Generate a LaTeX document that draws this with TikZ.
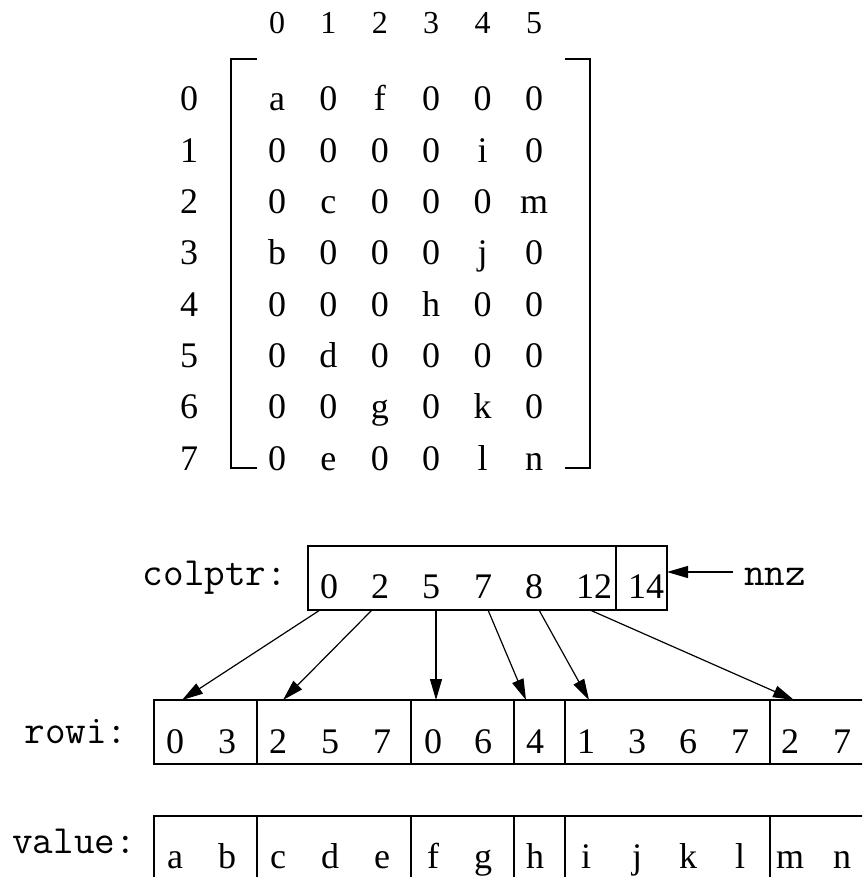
\documentclass[tikz,border=0pt]{standalone}
\usepackage{fontspec}
\setmainfont{Liberation Serif}
\usetikzlibrary{arrows.meta}

\begin{document}
\begin{tikzpicture}[x=1pt,y=-1pt,line width=1.2pt,
  num/.style={anchor=base,inner sep=0pt,font=\fontsize{36}{42}\selectfont},
  colhead/.style={anchor=base,inner sep=0pt,font=\fontsize{32}{38}\selectfont},
  lbl/.style={anchor=base,inner sep=0pt,font=\ttfamily\fontsize{40}{46}\selectfont},
  cell/.style={draw,rectangle,inner sep=0pt,outer sep=0pt},
  ptr/.style={-{Triangle[length=21pt,width=12pt]},line width=1.2pt}]

\useasboundingbox (0,0) rectangle (862,877);
\clip (0,0) rectangle (862,877);

% ---- sparse matrix ----
\foreach \c in {0,...,5}
  \node[colhead] (h\c) at ({277+51.4*\c},34) {\c};

\foreach \row [count=\r from 0] in
  {{a,0,f,0,0,0},{0,0,0,0,i,0},{0,c,0,0,0,m},{b,0,0,0,j,0},
   {0,0,0,h,0,0},{0,d,0,0,0,0},{0,0,g,0,k,0},{0,e,0,0,l,n}} {
  \node[num] (r\r) at (189,{111+51.3*\r}) {\r};
  \foreach \v [count=\c from 0] in \row
    \node[num] (m-\r-\c) at ({277+51.4*\c},{111+51.3*\r}) {\v};
}

% brackets
\draw (257,59) -- (231,59) -- (231,468) -- (257,468);
\draw (565,59) -- (590,59) -- (590,468) -- (565,468);

% ---- colptr array ----
\node[lbl] (colptr) at (215,585) {colptr:};
\node[cell,minimum width=308pt,minimum height=64pt] (cpmain) at (462,578) {};
\node[cell,minimum width=51pt,minimum height=64pt] (cpnnz) at (641.5,578) {};
\foreach \x/\t [count=\k from 0] in {329/0,380/2,431/5,483/7,534/8,594/12}
  \node[num] (cp\k) at (\x,598) {\t};
\node[num] (cp6) at (646,598) {14};

\node[lbl] (nnz) at (775,585) {nnz};
\coordinate (nnztail) at (733,572);
\draw[ptr] (nnztail) -- (cpnnz.east |- nnztail);

% ---- rowi and value arrays ----
\node[lbl] (rowi) at (76,743) {rowi:};
\node[lbl] (value) at (74,853) {value:};

\foreach \a/\b [count=\k] in {154/257,257/411,411/514,514/565,565/770,770/866} {
  \pgfmathsetmacro\w{\b-\a}
  \node[cell,minimum width=\w pt,minimum height=64pt] (ri\k) at ({(\a+\b)/2},732) {};
  \node[cell,minimum width=\w pt,minimum height=70pt] (va\k) at ({(\a+\b)/2},851) {};
}

\foreach \x/\d/\l [count=\k] in
  {175/0/a,227/3/b,278/2/c,330/5/d,382/7/e,433/0/f,483/6/g,535/4/h,
   586/1/i,637/3/j,688/6/k,740/7/l,790/2/m,842/7/n} {
  \node[num] (rd\k) at (\x,753) {\d};
  \node[num] (vl\k) at (\x,868) {\l};
}

% column pointers into rowi
\foreach \s/\t [count=\k from 0] in {320/182,372/283,436/436,488/526,539/589,590/794} {
  \coordinate (src\k) at (\s,610);
  \coordinate (dst\k) at (\t,700);
  \draw[ptr] (src\k) -- (dst\k);
}
\end{tikzpicture}
\end{document}
